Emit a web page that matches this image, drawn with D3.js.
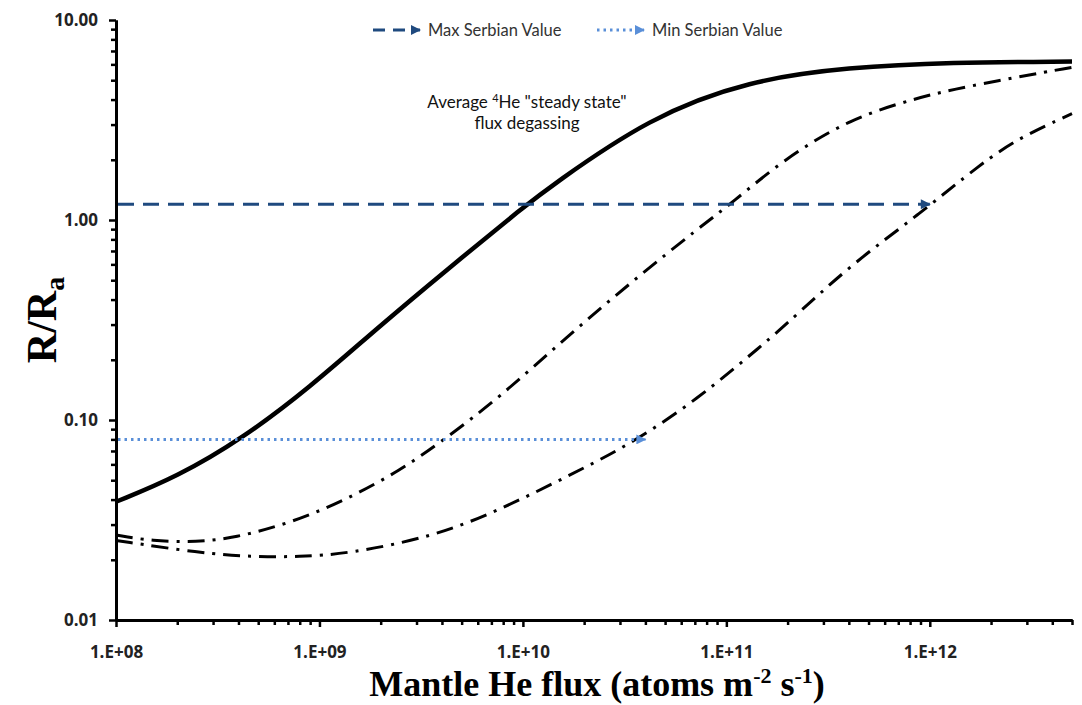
<!DOCTYPE html>
<html>
<head>
<meta charset="utf-8">
<script src="https://cdn.jsdelivr.net/npm/d3@7"></script>
<style>
  body { margin: 0; background: #fff; }
  svg { display: block; }
</style>
</head>
<body>
<svg id="chart" width="1082" height="705"></svg>
<script>
// steady state degassing curve (solid)
const fluxSteady = [1e8, 2e8, 4.2e8, 9e8, 1.9e9, 4.1e9, 1.05e10, 1.35e10, 4.2e10, 1.3e11, 4e11, 1.26e12, 5e12];
const rSteady    = [0.039, 0.052, 0.081, 0.146, 0.285, 0.55, 1.2, 1.46, 3.27, 5.0, 5.8, 6.15, 6.2];

// upper dash-dot curve
const fluxUpper = [1e8, 1.5e8, 2.5e8, 3.8e8, 7.2e8, 1.36e9, 2.5e9, 4.05e9, 7.7e9, 1.64e10, 3.5e10, 7.4e10, 1.07e11, 1.9e11, 4.1e11, 8.7e11, 1.26e12, 2.7e12, 5e12];
const rUpper    = [0.0266, 0.0248, 0.0245, 0.0257, 0.0305, 0.040, 0.056, 0.079, 0.13, 0.26, 0.5, 0.92, 1.22, 2.0, 3.24, 4.07, 4.47, 5.19, 5.8];

// lower dash-dot curve
const fluxLower = [1e8, 2.6e8, 4.6e8, 8e8, 1.36e9, 3.6e9, 7.7e9, 1.64e10, 3.5e10, 7.4e10, 1.28e11, 1.9e11, 4.1e11, 8.7e11, 1.8e12, 2.8e12, 5e12];
const rLower    = [0.025, 0.0216, 0.0207, 0.0207, 0.0214, 0.026, 0.0355, 0.052, 0.077, 0.13, 0.207, 0.29, 0.6, 1.05, 1.93, 2.6, 3.4];

// Serbian reference arrows
const refNames = ["Max Serbian Value", "Min Serbian Value"];
const refValues = [1.2, 0.08];
const refEnds = [1e12, 4e10];

const yMajor = [0.01, 0.1, 1, 10];
const xMajor = [1e8, 1e9, 1e10, 1e11, 1e12];

const svg = d3.select("#chart");
const mLeft = 116, mRight = 1072, mTop = 20, mBottom = 620;

const x = d3.scaleLog().domain([1e8, 5e12]).range([mLeft, mRight]);
const y = d3.scaleLog().domain([0.01, 10]).range([mBottom, mTop]);

// minor tick values, 2..9 in each decade
const xMinor = [];
for (let e = 8; e <= 12; e++) for (let m = 2; m <= 9; m++) { const v = m * Math.pow(10, e); if (v <= 5e12) xMinor.push(v); }
const yMinor = [];
for (let e = -2; e <= 0; e++) for (let m = 2; m <= 9; m++) yMinor.push(m * Math.pow(10, e));

// arrow markers
const defs = svg.append("defs");
function arrow(id, color) {
  defs.append("marker")
    .attr("id", id)
    .attr("markerUnits", "userSpaceOnUse")
    .attr("viewBox", "0 0 10 10")
    .attr("refX", 9).attr("refY", 5)
    .attr("markerWidth", 12).attr("markerHeight", 10)
    .attr("orient", "auto")
    .append("path").attr("d", "M0,0 L10,5 L0,10 Z").attr("fill", color);
}
const maxColor = "#1f4a7f", minColor = "#5a8fd8";
arrow("arrMax", maxColor);
arrow("arrMin", minColor);

// axes
const axisStyle = g => {
  g.select(".domain").attr("stroke", "#000").attr("stroke-width", 3);
  g.selectAll(".tick line").attr("stroke", "#000").attr("stroke-width", 2.5);
  g.selectAll(".tick text")
    .style("font-family", "'Open Sans', sans-serif")
    .style("font-size", "17px").style("font-weight", "bold").attr("fill", "#222");
};

svg.append("g").attr("transform", `translate(0,${mBottom})`)
  .call(d3.axisBottom(x).tickValues(xMinor).tickSize(5).tickFormat("").tickSizeOuter(0))
  .call(axisStyle);
svg.append("g").attr("transform", `translate(0,${mBottom})`)
  .call(d3.axisBottom(x).tickValues(xMajor).tickSize(7).tickPadding(19).tickSizeOuter(0)
    .tickFormat(d => "1.E+" + String(Math.round(Math.log10(d))).padStart(2, "0")))
  .call(axisStyle);

svg.append("g").attr("transform", `translate(${mLeft},0)`)
  .call(d3.axisLeft(y).tickValues(yMinor).tickSize(5).tickFormat("").tickSizeOuter(0))
  .call(axisStyle);
svg.append("g").attr("transform", `translate(${mLeft},0)`)
  .call(d3.axisLeft(y).tickValues(yMajor).tickSize(7).tickPadding(11).tickSizeOuter(0).tickFormat(d3.format(".2f")))
  .call(axisStyle);

// curves
const line = d3.line().x(d => x(d[0])).y(d => y(d[1])).curve(d3.curveBasis);
const plot = svg.append("g");

plot.append("path")
  .datum(fluxUpper.map((f, i) => [f, rUpper[i]]))
  .attr("d", line).attr("fill", "none").attr("stroke", "#000")
  .attr("stroke-width", 3).attr("stroke-dasharray", "17,8,3,8");
plot.append("path")
  .datum(fluxLower.map((f, i) => [f, rLower[i]]))
  .attr("d", line).attr("fill", "none").attr("stroke", "#000")
  .attr("stroke-width", 3).attr("stroke-dasharray", "17,8,3,8");
plot.append("path")
  .datum(fluxSteady.map((f, i) => [f, rSteady[i]]))
  .attr("d", line).attr("fill", "none").attr("stroke", "#000")
  .attr("stroke-width", 4.5);

// reference arrows
const refStyle = [
  { color: maxColor, dash: "16,9", marker: "url(#arrMax)" },
  { color: minColor, dash: "2.5,4", marker: "url(#arrMin)" }
];
refValues.forEach((v, i) => {
  plot.append("line")
    .attr("x1", x(1e8) + 2).attr("x2", x(refEnds[i]))
    .attr("y1", y(v)).attr("y2", y(v))
    .attr("stroke", refStyle[i].color).attr("stroke-width", 3)
    .attr("stroke-dasharray", refStyle[i].dash)
    .attr("marker-end", refStyle[i].marker);
});

// legend
const legendX = [373, 597];
refNames.forEach((name, i) => {
  const g = svg.append("g").attr("transform", `translate(${legendX[i]},30)`);
  g.append("line").attr("x1", 0).attr("x2", 47).attr("y1", 0).attr("y2", 0)
    .attr("stroke", refStyle[i].color).attr("stroke-width", 3)
    .attr("stroke-dasharray", i === 0 ? "12,8" : "2.5,4")
    .attr("marker-end", refStyle[i].marker);
  g.append("text").attr("x", 55).attr("y", 6)
    .attr("font-family", "Lato, sans-serif").attr("font-size", 16.5).attr("fill", "#333")
    .text(name);
});

// annotation
const note = svg.append("text")
  .attr("text-anchor", "middle")
  .attr("font-family", "Lato, sans-serif").attr("font-size", 17).attr("fill", "#111");
const l1 = note.append("tspan").attr("x", 527).attr("y", 108);
l1.append("tspan").text("Average ");
l1.append("tspan").attr("font-size", 11).attr("dy", -6).text("4");
l1.append("tspan").attr("dy", 6).text("He \"steady state\"");
note.append("tspan").attr("x", 527).attr("y", 129).text("flux degassing");

// axis titles
svg.append("text")
  .attr("transform", "translate(56,320) rotate(-90)")
  .attr("text-anchor", "middle")
  .attr("font-family", "'Liberation Serif', 'Times New Roman', serif")
  .attr("font-weight", "bold").attr("font-size", 42)
  .call(t => {
    t.append("tspan").text("R/R");
    t.append("tspan").attr("font-size", 28).attr("dy", 8).text("a");
  });

svg.append("text")
  .attr("x", 597).attr("y", 696)
  .attr("text-anchor", "middle")
  .attr("font-family", "'Liberation Serif', 'Times New Roman', serif")
  .attr("font-weight", "bold").attr("font-size", 36)
  .call(t => {
    t.append("tspan").text("Mantle He flux (atoms m");
    t.append("tspan").attr("font-size", 22).attr("dy", -13).text("-2");
    t.append("tspan").attr("dy", 13).text(" s");
    t.append("tspan").attr("font-size", 22).attr("dy", -13).text("-1");
    t.append("tspan").attr("dy", 13).text(")");
  });
</script>
</body>
</html>
